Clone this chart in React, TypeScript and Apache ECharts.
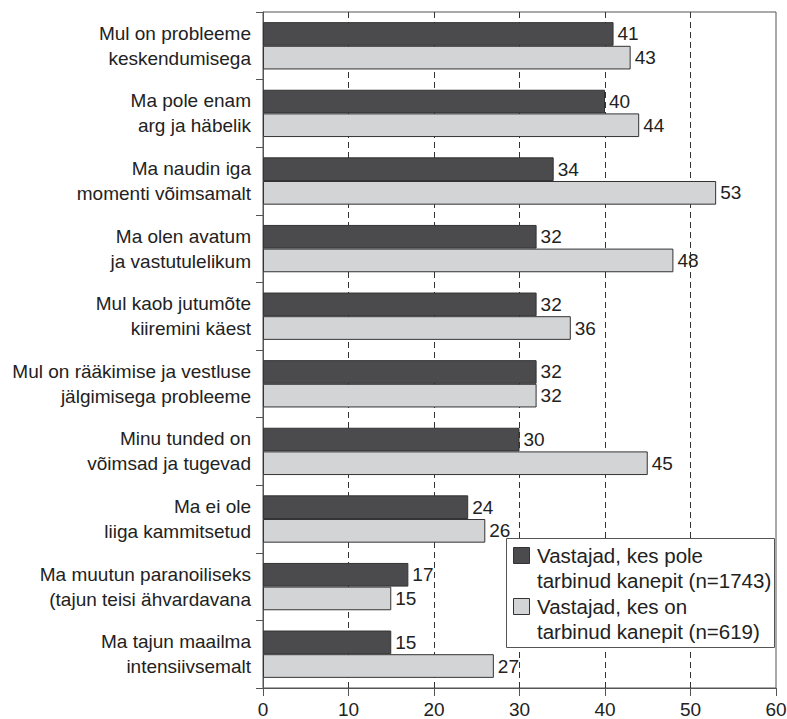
import React, { useEffect, useRef } from "react";
import * as echarts from "echarts";

const categories: string[] = [
  "Mul on probleeme\nkeskendumisega",
  "Ma pole enam\narg ja häbelik",
  "Ma naudin iga\nmomenti võimsamalt",
  "Ma olen avatum\nja vastutulelikum",
  "Mul kaob jutumõte\nkiiremini käest",
  "Mul on rääkimise ja vestluse\njälgimisega probleeme",
  "Minu tunded on\nvõimsad ja tugevad",
  "Ma ei ole\nliiga kammitsetud",
  "Ma muutun paranoiliseks\n(tajun teisi ähvardavana",
  "Ma tajun maailma\nintensiivsemalt",
];

const nonUsers: number[] = [41, 40, 34, 32, 32, 32, 30, 24, 17, 15];
const users: number[] = [43, 44, 53, 48, 36, 32, 45, 26, 15, 27];

const seriesNames: string[] = [
  "Vastajad, kes pole\ntarbinud kanepit (n=1743)",
  "Vastajad, kes on\ntarbinud kanepit (n=619)",
];

const DARK = "#4b4b4d";
const LIGHT = "#d3d4d6";
const FONT = "'Liberation Sans', Arial, Helvetica, sans-serif";

export default function App() {
  const ref = useRef<HTMLDivElement>(null);
  useEffect(() => {
    if (!ref.current) return;
    const chart = echarts.init(ref.current, undefined, { renderer: "svg" });
    const labelStyle = {
      show: true,
      position: "right" as const,
      distance: 4,
      fontSize: 19,
      color: "#222",
      fontFamily: FONT,
    };
    chart.setOption({
      animation: false,
      backgroundColor: "#fff",
      textStyle: { fontFamily: FONT },
      grid: {
        left: 263,
        right: 11,
        top: 12,
        bottom: 31,
        containLabel: false,
        outerBoundsMode: "none",
        show: true,
        borderColor: "#555",
        borderWidth: 1,
        backgroundColor: "transparent",
      },
      xAxis: {
        type: "value",
        min: 0,
        max: 60,
        interval: 10,
        axisLine: { show: true, lineStyle: { color: "#555", width: 1 } },
        axisTick: { show: true, length: 8, lineStyle: { color: "#555" } },
        axisLabel: { fontSize: 19, color: "#222", margin: 12, fontFamily: FONT },
        splitLine: {
          show: true,
          showMinLine: false,
          showMaxLine: false,
          lineStyle: { color: "#333", type: [6, 4], width: 1 },
        },
      },
      yAxis: {
        type: "category",
        inverse: true,
        data: categories,
        axisLine: { show: true, lineStyle: { color: "#555", width: 1 } },
        axisTick: { show: true, length: 7, lineStyle: { color: "#555" } },
        axisLabel: {
          fontSize: 19,
          lineHeight: 25,
          color: "#222",
          margin: 12,
          fontFamily: FONT,
        },
        splitLine: { show: false },
      },
      series: [
        {
          name: seriesNames[0],
          type: "bar",
          data: nonUsers,
          barGap: "0%",
          barCategoryGap: "30%",
          itemStyle: { color: DARK, borderColor: "#333", borderWidth: 1 },
          label: labelStyle,
        },
        {
          name: seriesNames[1],
          type: "bar",
          data: users,
          barGap: "0%",
          barCategoryGap: "30%",
          itemStyle: { color: LIGHT, borderColor: "#333", borderWidth: 1 },
          label: labelStyle,
        },
      ],
      graphic: [
        {
          type: "rect",
          shape: { x: 506.5, y: 538.5, width: 268, height: 109 },
          style: { fill: "#fff", stroke: "#555", lineWidth: 1 },
          z: 100,
        },
        {
          type: "rect",
          shape: { x: 513.5, y: 547.5, width: 16, height: 16 },
          style: { fill: DARK, stroke: "#333", lineWidth: 1 },
          z: 101,
        },
        {
          type: "text",
          x: 537,
          y: 542.5,
          style: {
            text: seriesNames[0],
            fontSize: 20.5,
            lineHeight: 25.5,
            fill: "#222",
            fontFamily: FONT,
          },
          z: 101,
        },
        {
          type: "rect",
          shape: { x: 513.5, y: 598.5, width: 16, height: 16 },
          style: { fill: LIGHT, stroke: "#333", lineWidth: 1 },
          z: 101,
        },
        {
          type: "text",
          x: 537,
          y: 593.5,
          style: {
            text: seriesNames[1],
            fontSize: 20.5,
            lineHeight: 25.5,
            fill: "#222",
            fontFamily: FONT,
          },
          z: 101,
        },
      ],
    });
    return () => chart.dispose();
  }, []);
  return (
    <div
      ref={ref}
      style={{ position: "fixed", left: 0, top: 0, width: 787, height: 719 }}
    />
  );
}
